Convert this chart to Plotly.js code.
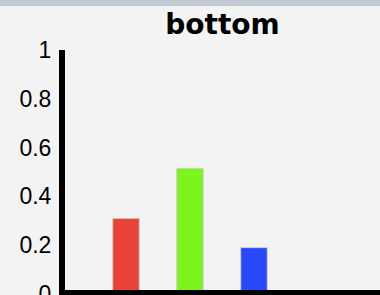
<!DOCTYPE html>
<html>
<head>
<meta charset="utf-8">
<script src="https://cdn.plot.ly/plotly-3.0.1.min.js"></script>
<style>
  html, body { margin: 0; padding: 0; background: #f3f3f3; overflow: hidden; width: 380px; height: 295px; }
  #band { height: 6px; background: #c3cad6; }
  #chart { width: 380px; height: 310px; }
</style>
</head>
<body>
<div id="band"></div>
<div id="chart"></div>
<script>
// Data
const categories = [0, 1, 2];
const values = [0.31, 0.515, 0.19];
const barColors = ['#e94338', '#7ef41e', '#2848fb'];
const yTickVals = [0, 0.2, 0.4, 0.6, 0.8, 1];
const yTickLabels = ['0', '0.2', '0.4', '0.6', '0.8', '1'];

const trace = {
  type: 'bar',
  x: categories,
  y: values,
  width: 0.415,
  marker: { color: barColors, line: { color: '#d0d0d0', width: 1 } },
  hoverinfo: 'none'
};

const layout = {
  width: 380,
  height: 310,
  margin: { l: 65, r: 0, t: 44, b: 22, pad: 0 },
  paper_bgcolor: '#f3f3f3',
  plot_bgcolor: '#f3f3f3',
  showlegend: false,
  title: {
    text: '<b>bottom</b>',
    font: { family: 'DejaVu Sans, Liberation Sans, Arial, sans-serif', size: 28, color: '#000' },
    xref: 'paper', x: 0.5, xanchor: 'center',
    yref: 'container', y: 0.942, yanchor: 'middle'
  },
  xaxis: {
    range: [-0.953, 3.969],
    showgrid: false, zeroline: false,
    showline: true, linecolor: '#000', linewidth: 8,
    showticklabels: false, ticks: ''
  },
  yaxis: {
    range: [0, 1],
    tickvals: yTickVals,
    ticktext: yTickLabels,
    showgrid: false, zeroline: false,
    showline: true, linecolor: '#000', linewidth: 6,
    ticks: 'outside', ticklen: 3, tickcolor: 'rgba(0,0,0,0)',
    tickfont: { family: 'Liberation Sans, Arial, sans-serif', size: 23, color: '#000' }
  },
  shapes: [{
    type: 'line', layer: 'above',
    xref: 'paper', x0: 0, x1: 1,
    yref: 'y', y0: 0, y1: 0,
    line: { color: '#000', width: 8 }
  }]
};

Plotly.newPlot('chart', [trace], layout, { displayModeBar: false, staticPlot: true });
</script>
</body>
</html>
